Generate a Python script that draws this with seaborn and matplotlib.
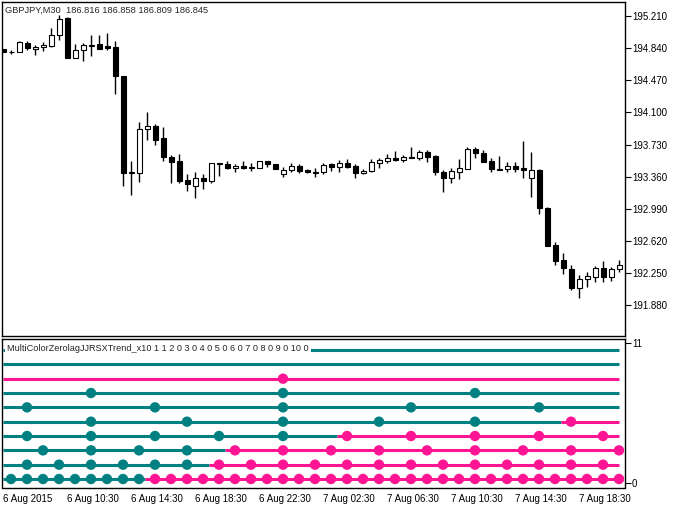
"""
MT5-style chart: GBPJPY M30 candles + MultiColorZerolagJJRSXTrend_x10 panel.
"""
import numpy as np
import pandas as pd
import matplotlib
matplotlib.use('Agg')
import matplotlib.pyplot as plt
import seaborn as sns

sns.set_style('white')
plt.rcParams['font.family'] = ['Liberation Sans', 'DejaVu Sans']

TEAL = '#008080'
PINK = '#FF1493'

SYMBOL_TITLE = 'GBPJPY,M30  186.816 186.858 186.809 186.845'
INDICATOR_TITLE = 'MultiColorZerolagJJRSXTrend_x10 1 1 2 0 3 0 4 0 5 0 6 0 7 0 8 0 9 0 10 0'

FIRST_BAR = '2015-08-06 06:30'

opens = [194.83, 194.79, 194.796, 194.903, 194.827, 194.85, 194.868, 194.988, 195.187, 194.73,
         194.815, 194.87, 194.888, 194.861, 194.853, 194.52, 193.407, 193.407, 193.906, 193.944,
         193.803, 193.584, 193.541, 193.323, 193.257, 193.342, 193.308, 193.515, 193.507, 193.461,
         193.487, 193.466, 193.464, 193.537, 193.507, 193.388, 193.438, 193.484, 193.438, 193.415,
         193.418, 193.504, 193.469, 193.522, 193.484, 193.40, 193.43, 193.515, 193.541, 193.579,
         193.553, 193.579, 193.579, 193.649, 193.599, 193.418, 193.349, 193.418, 193.453, 193.68,
         193.63, 193.541, 193.444, 193.446, 193.487, 193.457, 193.342, 193.438, 193.004, 192.575,
         192.402, 192.299, 192.084, 192.18, 192.21, 192.307, 192.203, 192.295]
highs = [194.83, 194.815, 194.922, 194.926, 194.88, 194.907, 195.072, 195.218, 195.195, 194.888,
         194.896, 194.988, 194.988, 195.014, 194.919, 194.52, 193.538, 193.99, 194.105, 193.967,
         193.936, 193.61, 193.619, 193.392, 193.41, 193.395, 193.515, 193.515, 193.541, 193.507,
         193.541, 193.515, 193.537, 193.541, 193.507, 193.469, 193.515, 193.507, 193.45, 193.457,
         193.515, 193.515, 193.553, 193.565, 193.503, 193.45, 193.565, 193.573, 193.619, 193.66,
         193.61, 193.699, 193.668, 193.668, 193.61, 193.438, 193.457, 193.565, 193.706, 193.706,
         193.665, 193.573, 193.599, 193.527, 193.527, 193.772, 193.649, 193.45, 193.012, 192.606,
         192.486, 192.345, 192.23, 192.268, 192.333, 192.391, 192.318, 192.402]
lows = [194.79, 194.77, 194.79, 194.815, 194.765, 194.804, 194.857, 194.93, 194.73, 194.73,
        194.689, 194.75, 194.827, 194.815, 194.316, 193.25, 193.154, 193.30, 193.78, 193.722,
        193.541, 193.29, 193.29, 193.20, 193.112, 193.216, 193.285, 193.372, 193.446, 193.41,
        193.455, 193.426, 193.464, 193.476, 193.446, 193.361, 193.418, 193.407, 193.40, 193.361,
        193.388, 193.426, 193.418, 193.458, 193.349, 193.388, 193.418, 193.464, 193.522, 193.541,
        193.533, 193.579, 193.553, 193.533, 193.38, 193.188, 193.285, 193.331, 193.446, 193.579,
        193.53, 193.418, 193.434, 193.418, 193.418, 193.349, 193.131, 192.932, 192.558, 192.345,
        192.241, 192.057, 191.968, 192.095, 192.153, 192.153, 192.16, 192.268]
closes = [194.79, 194.79, 194.911, 194.842, 194.853, 194.876, 194.988, 195.179, 194.73, 194.815,
          194.873, 194.876, 194.834, 194.842, 194.516, 193.407, 193.415, 193.906, 193.944, 193.787,
          193.584, 193.533, 193.315, 193.273, 193.342, 193.315, 193.515, 193.504, 193.458, 193.487,
          193.461, 193.469, 193.537, 193.504, 193.446, 193.438, 193.484, 193.43, 193.411, 193.406,
          193.495, 193.476, 193.522, 193.469, 193.40, 193.43, 193.533, 193.553, 193.579, 193.553,
          193.587, 193.584, 193.649, 193.591, 193.418, 193.349, 193.426, 193.457, 193.676, 193.63,
          193.533, 193.446, 193.44, 193.487, 193.446, 193.441, 193.438, 192.997, 192.567, 192.394,
          192.307, 192.077, 192.18, 192.215, 192.307, 192.203, 192.299, 192.345]

PRICE_TICKS = [195.210, 194.840, 194.470, 194.100, 193.730, 193.360, 192.990, 192.620, 192.250, 191.880]

TIME_TICKS = ['2015-08-06 06:30', '2015-08-06 10:30', '2015-08-06 14:30', '2015-08-06 18:30',
              '2015-08-06 22:30', '2015-08-07 02:30', '2015-08-07 06:30', '2015-08-07 10:30',
              '2015-08-07 14:30', '2015-08-07 18:30']
TIME_LABELS = ['6 Aug 2015', '6 Aug 10:30', '6 Aug 14:30', '6 Aug 18:30', '6 Aug 22:30',
               '7 Aug 02:30', '7 Aug 06:30', '7 Aug 10:30', '7 Aug 14:30', '7 Aug 18:30']

# indicator rows, bottom to top
ROW_NAMES = ['H1', 'H2', 'H3', 'H4', 'H6', 'H8', 'H12', 'D1', 'W1', 'MN1']
ROW_HOURS = [1, 2, 3, 4, 6, 8, 12, 24, None, None]
ROW_START = ['up', 'up', 'up', 'up', 'up', 'up', 'up', 'down', 'up', 'up']
ROW_SWITCH = [17.8, 25.8, 27.8, 41.8, 69.8, None, None, None, None, None]

IND_TICKS = [10.49, 0.72]
IND_TICK_LABELS = ['11', '0']


def draw_candles(ax, o, h, l, c):
    idx = np.arange(len(o))
    up = c >= o
    ax.vlines(idx, l, h, color='black', lw=1, zorder=2)
    body = np.maximum(np.abs(c - o), 0.004)
    ax.bar(idx, body, bottom=np.minimum(o, c), width=0.625,
           color=np.where(up, 'white', 'black'), edgecolor='black', linewidth=0.8, zorder=3)


def draw_indicator(ax, times):
    n = len(times)
    colors = {'up': TEAL, 'down': PINK}
    flip = {'up': 'down', 'down': 'up'}
    dots = []
    for r, (hrs, start, sw) in enumerate(zip(ROW_HOURS, ROW_START, ROW_SWITCH), start=1):
        if sw is None:
            ax.plot([0, n - 1], [r, r], color=colors[start], lw=2.2, solid_capstyle='butt', zorder=2)
        else:
            ax.plot([0, sw], [r, r], color=colors[start], lw=2.2, solid_capstyle='butt', zorder=2)
            ax.plot([sw, n - 1], [r, r], color=colors[flip[start]], lw=2.2, solid_capstyle='butt', zorder=2)
        if hrs is None:
            continue
        mask = (times.minute == 0) & (times.hour % hrs == 0)
        for i in np.where(mask)[0]:
            state = start if (sw is None or i < sw) else flip[start]
            dots.append({'bar': i, 'row': r, 'state': state})
    df = pd.DataFrame(dots)
    sns.scatterplot(data=df, x='bar', y='row', hue='state', palette=colors, s=56,
                    linewidth=0, legend=False, ax=ax, zorder=3)


def main():
    o, h, l, c = map(np.array, (opens, highs, lows, closes))
    times = pd.date_range(FIRST_BAR, periods=len(o), freq='30min')

    fig = plt.figure(figsize=(6.77, 5.08), dpi=100)
    ax = fig.add_axes([2 / 677, 1 - 336 / 508, 623 / 677, 334 / 508])
    ax2 = fig.add_axes([2 / 677, 1 - 487.5 / 508, 623 / 677, 148.5 / 508])

    draw_candles(ax, o, h, l, c)
    ax.set_xlim(-0.125, 77.75)
    ax.set_ylim(191.528, 195.371)
    ax.yaxis.tick_right()
    ax.set_yticks(PRICE_TICKS)
    ax.set_yticklabels([f'{p:.3f}' for p in PRICE_TICKS])
    ax.set_xticks([])
    ax.tick_params(axis='y', direction='out', length=4, width=0.8, labelsize=7, pad=1, colors='black')
    ax.text(0.005, 0.976, SYMBOL_TITLE, transform=ax.transAxes, fontsize=6.7, va='center', ha='left')

    draw_indicator(ax2, times)
    ax2.set_xlim(-0.125, 77.75)
    ax2.set_ylim(0.407, 10.77)
    ax2.yaxis.tick_right()
    ax2.set_yticks(IND_TICKS)
    ax2.set_yticklabels(IND_TICK_LABELS)
    ax2.set_xticks(times.get_indexer(pd.to_datetime(TIME_TICKS)))
    ax2.set_xticklabels(TIME_LABELS)
    for lab in ax2.get_xticklabels():
        lab.set_ha('left')
    ax2.tick_params(direction='out', length=4, width=0.8, labelsize=7, pad=1, colors='black')
    ax2.set_xlabel('')
    ax2.set_ylabel('')
    ax2.text(0.008, 0.939, INDICATOR_TITLE, transform=ax2.transAxes, fontsize=6.6, va='center',
             ha='left', zorder=5, bbox=dict(facecolor='white', edgecolor='none', pad=1.5))

    for a in (ax, ax2):
        for sp in a.spines.values():
            sp.set_color('black')
            sp.set_linewidth(1)

    fig.savefig('out.png', dpi=100)
    plt.close(fig)


if __name__ == '__main__':
    main()
